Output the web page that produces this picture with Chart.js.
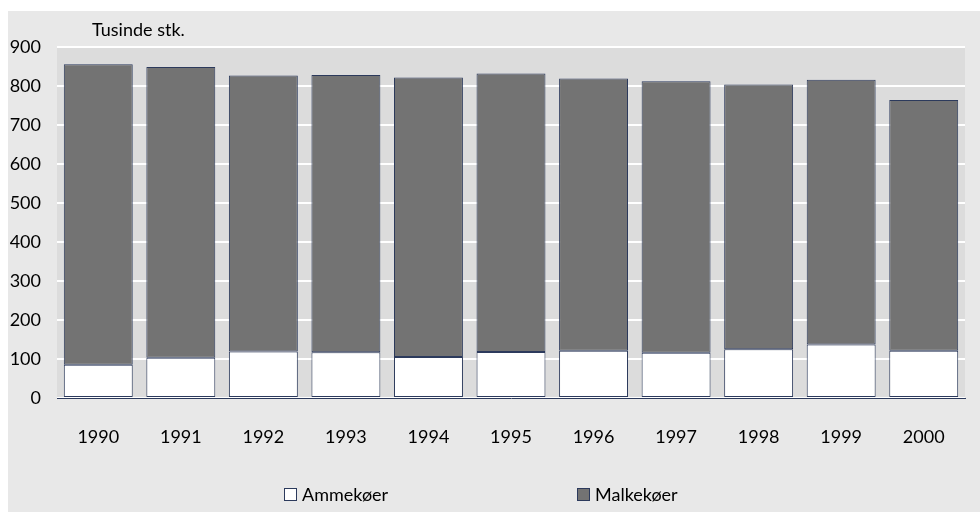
<!DOCTYPE html>
<html>
<head>
<meta charset="utf-8">
<script src="https://cdn.jsdelivr.net/npm/chart.js@4.4.1/dist/chart.umd.min.js"></script>
<style>
  html, body { margin: 0; padding: 0; background: #ffffff; }
  #wrap { position: relative; width: 980px; height: 512px; }
  canvas { display: block; }
</style>
</head>
<body>
<div id="wrap"><canvas id="c" width="980" height="512"></canvas></div>
<script>
const years = ['1990','1991','1992','1993','1994','1995','1996','1997','1998','1999','2000'];
const ammekoer = [85, 103, 119, 117, 105, 118, 121, 116, 125, 137, 121];
const malkekoer = [771, 746, 708, 711, 717, 714, 698, 696, 679, 679, 643];
const seriesNames = ['Ammekøer', 'Malkekøer'];
const unitLabel = 'Tusinde stk.';

const FONT = 'Lato, "Open Sans", sans-serif';
const FSIZE = 18;
const BORDER = '#2c3a5c';

const bgPlugin = {
  id: 'bg',
  beforeDraw(chart) {
    const { ctx, chartArea: a } = chart;
    ctx.save();
    ctx.fillStyle = '#ffffff';
    ctx.fillRect(0, 0, chart.width, chart.height);
    ctx.fillStyle = '#e8e8e8';
    ctx.fillRect(8, 11, chart.width - 8, chart.height - 11);
    ctx.fillStyle = '#dcdcdc';
    ctx.fillRect(a.left, a.top, a.right - a.left, a.bottom - a.top);
    ctx.restore();
  },
  afterDraw(chart) {
    const { ctx, chartArea: a } = chart;
    ctx.save();
    ctx.font = FSIZE + 'px ' + FONT;
    ctx.fillStyle = '#000';
    ctx.textBaseline = 'middle';
    ctx.textAlign = 'left';
    ctx.fillText(unitLabel, a.left + 35, 30);
    // legend
    const items = [
      { x: 284, fill: '#ffffff', text: seriesNames[0] },
      { x: 577, fill: '#737373', text: seriesNames[1] }
    ];
    const y = 495;
    items.forEach(it => {
      ctx.fillStyle = it.fill;
      ctx.fillRect(it.x, y - 7, 13, 13);
      ctx.strokeStyle = BORDER;
      ctx.lineWidth = 1;
      ctx.strokeRect(it.x + 0.5, y - 6.5, 12, 12);
      ctx.fillStyle = '#000';
      ctx.fillText(it.text, it.x + 18, y);
    });
    ctx.restore();
  }
};

new Chart(document.getElementById('c'), {
  type: 'bar',
  data: {
    labels: years,
    datasets: [
      {
        label: seriesNames[0],
        data: ammekoer,
        backgroundColor: '#ffffff',
        borderColor: BORDER,
        borderWidth: 1,
        borderSkipped: false,
        barPercentage: 0.835,
        categoryPercentage: 1
      },
      {
        label: seriesNames[1],
        data: malkekoer,
        backgroundColor: '#737373',
        borderColor: BORDER,
        borderWidth: 1,
        borderSkipped: false,
        barPercentage: 0.835,
        categoryPercentage: 1
      }
    ]
  },
  options: {
    responsive: false,
    animation: false,
    devicePixelRatio: 1,
    layout: { padding: { left: 0, right: 15, top: 47, bottom: 0 } },
    plugins: {
      legend: { display: false },
      tooltip: { enabled: false },
      title: { display: false }
    },
    scales: {
      x: {
        stacked: true,
        grid: { display: false, drawTicks: false },
        border: { display: true, color: BORDER, width: 1 },
        ticks: { color: '#000', font: { family: FONT, size: FSIZE }, padding: 28 },
        afterFit(s) { s.height = 114; }
      },
      y: {
        stacked: true,
        min: 0,
        max: 900,
        ticks: { stepSize: 100, color: '#000', font: { family: FONT, size: FSIZE }, padding: 16 },
        grid: { color: '#ffffff', lineWidth: 2, drawTicks: false },
        border: { display: false },
        afterFit(s) { s.width = 57; }
      }
    }
  },
  plugins: [bgPlugin]
});
</script>
</body>
</html>
